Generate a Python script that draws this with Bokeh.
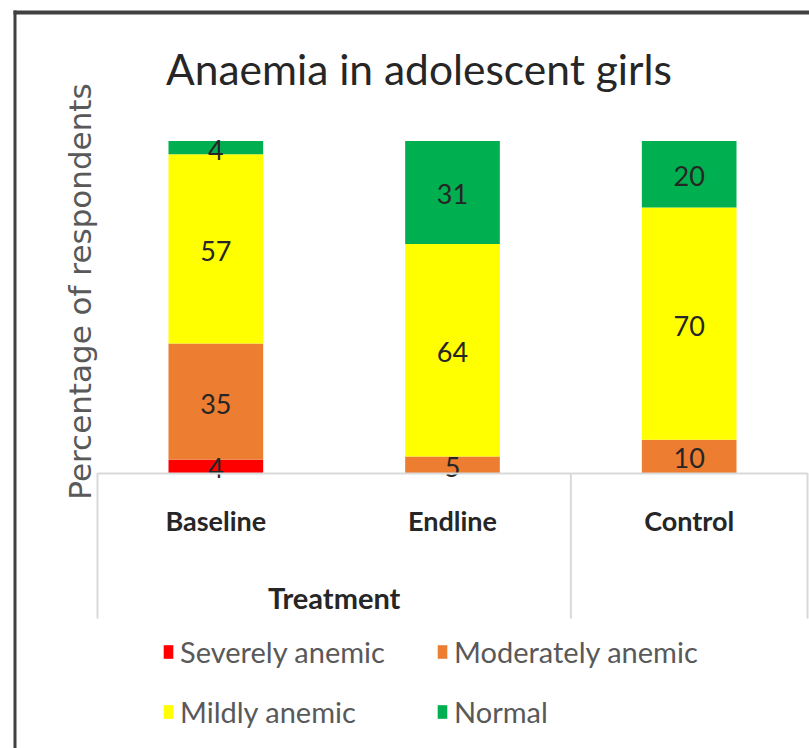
import math
from bokeh.plotting import figure
from bokeh.models import (Range1d, LinearAxis, FixedTicker, Label, Legend,
                          LegendItem, ColumnDataSource)
from bokeh.core.properties import value
from bokeh.embed import file_html
from bokeh.resources import INLINE

# ---------------- data ----------------
title_text = "Anaemia in adolescent girls"
y_label = "Percentage of respondents"
group_label = "Treatment"
grouped = ["Baseline", "Endline"]          # categories under the "Treatment" group
categories = ["Baseline", "Endline", "Control"]
series = ["Severely anemic", "Moderately anemic", "Mildly anemic", "Normal"]
severely = [4, 0, 0]
moderately = [35, 5, 10]
mildly = [57, 64, 70]
normal = [4, 31, 20]
colors = ["#FF0000", "#ED7D31", "#FFFF00", "#00B050"]

# ---------------- layout helpers (page pixels -> data units) ----------------
W, H = 809, 748
X0_PX, CAT_PX = 97.0, 236.67     # page x of first category edge, px per category
Y0_PX, UNIT_PX = 472.5, 3.32     # page y of zero line, px per percentage point


def px2x(px):
    return (px - X0_PX) / CAT_PX


def px2y(py):
    return (Y0_PX - py) / UNIT_PX


FONT = "Lato"
DARK = "#262626"
GREY = "#595959"

p = figure(width=W, height=H, output_backend="svg", toolbar_location=None,
           x_range=Range1d(px2x(0), px2x(W)),
           y_range=Range1d(px2y(H), px2y(0)),
           x_axis_type=None, y_axis_type=None, min_border=0)
p.outline_line_color = None
p.background_fill_color = "white"
p.border_fill_color = "white"

# ---------------- bars ----------------
xs = [i + 0.5 for i in range(len(categories))]
values = [severely, moderately, mildly, normal]
src = ColumnDataSource(dict(x=xs, **{s: v for s, v in zip(series, values)}))
renderers = p.vbar_stack(series, x="x", width=0.4, source=src,
                         fill_color=colors, line_color=None)

# data labels
lx, ly, lt = [], [], []
for i in range(len(categories)):
    base = 0
    for v in values:
        if v[i] > 0:
            lx.append(xs[i])
            ly.append(base + v[i] / 2)
            lt.append(str(v[i]))
        base += v[i]
p.text(x=lx, y=ly, text=lt, text_align="center", text_baseline="middle",
       y_offset=2, text_font=value(FONT), text_font_size="27px",
       text_color=DARK)

# ---------------- category axis ----------------
xaxis = LinearAxis(fixed_location=0, bounds=(0, len(categories)),
                   ticker=FixedTicker(ticks=xs),
                   major_label_overrides={x: c for x, c in zip(xs, categories)})
xaxis.axis_line_color = "#D9D9D9"
xaxis.axis_line_width = 2
xaxis.major_tick_line_color = None
xaxis.minor_tick_line_color = None
xaxis.major_tick_out = 0
xaxis.major_tick_in = 0
xaxis.minor_tick_out = 0
xaxis.major_label_standoff = 31
xaxis.major_label_text_font = FONT
xaxis.major_label_text_font_style = "bold"
xaxis.major_label_text_font_size = "27px"
xaxis.major_label_text_color = DARK
p.add_layout(xaxis, "below")

# category boundary lines below the axis
edges = [0, categories.index("Control"), len(categories)]
p.segment(x0=edges, y0=[0] * len(edges), x1=edges, y1=[px2y(618)] * len(edges),
          line_color="#D9D9D9", line_width=2)

# group label
gx = sum(xs[categories.index(c)] for c in grouped) / len(grouped)
p.add_layout(Label(x=gx, y=px2y(597), text=group_label, text_align="center",
                   text_baseline="middle", text_font=FONT,
                   text_font_style="bold", text_font_size="29px",
                   text_color=DARK))

# title
p.add_layout(Label(x=px2x(418.5), y=px2y(68), text=title_text,
                   text_align="center", text_baseline="middle",
                   text_font=FONT, text_font_size="42.5px", text_color=DARK))

# y axis label
p.add_layout(Label(x=px2x(79), y=px2y(291), text=y_label, angle=math.pi / 2,
                   text_align="center", text_baseline="middle",
                   text_font="DejaVu Sans", text_font_size="31px",
                   text_color=GREY))

# chart area border (top and left edges)
p.segment(x0=[px2x(14.5)], y0=[px2y(H + 10)], x1=[px2x(14.5)], y1=[px2y(10)],
          line_color="#404040", line_width=3)
p.segment(x0=[px2x(13)], y0=[px2y(12)], x1=[px2x(W + 10)], y1=[px2y(12)],
          line_color="#404040", line_width=4)

# ---------------- legend ----------------
items = [LegendItem(label=s, renderers=[r]) for s, r in zip(series, renderers)]
legend = Legend(items=items, orientation="horizontal", ncols=2,
                location=(162, 17), padding=0, margin=0,
                glyph_width=12, glyph_height=17, label_standoff=6,
                label_width=236, label_height=40, spacing=20,
                label_text_font=FONT, label_text_font_size="29px",
                label_text_color=GREY, border_line_color=None,
                background_fill_alpha=0)
p.add_layout(legend)

open("out.html", "w").write(file_html(p, INLINE))
